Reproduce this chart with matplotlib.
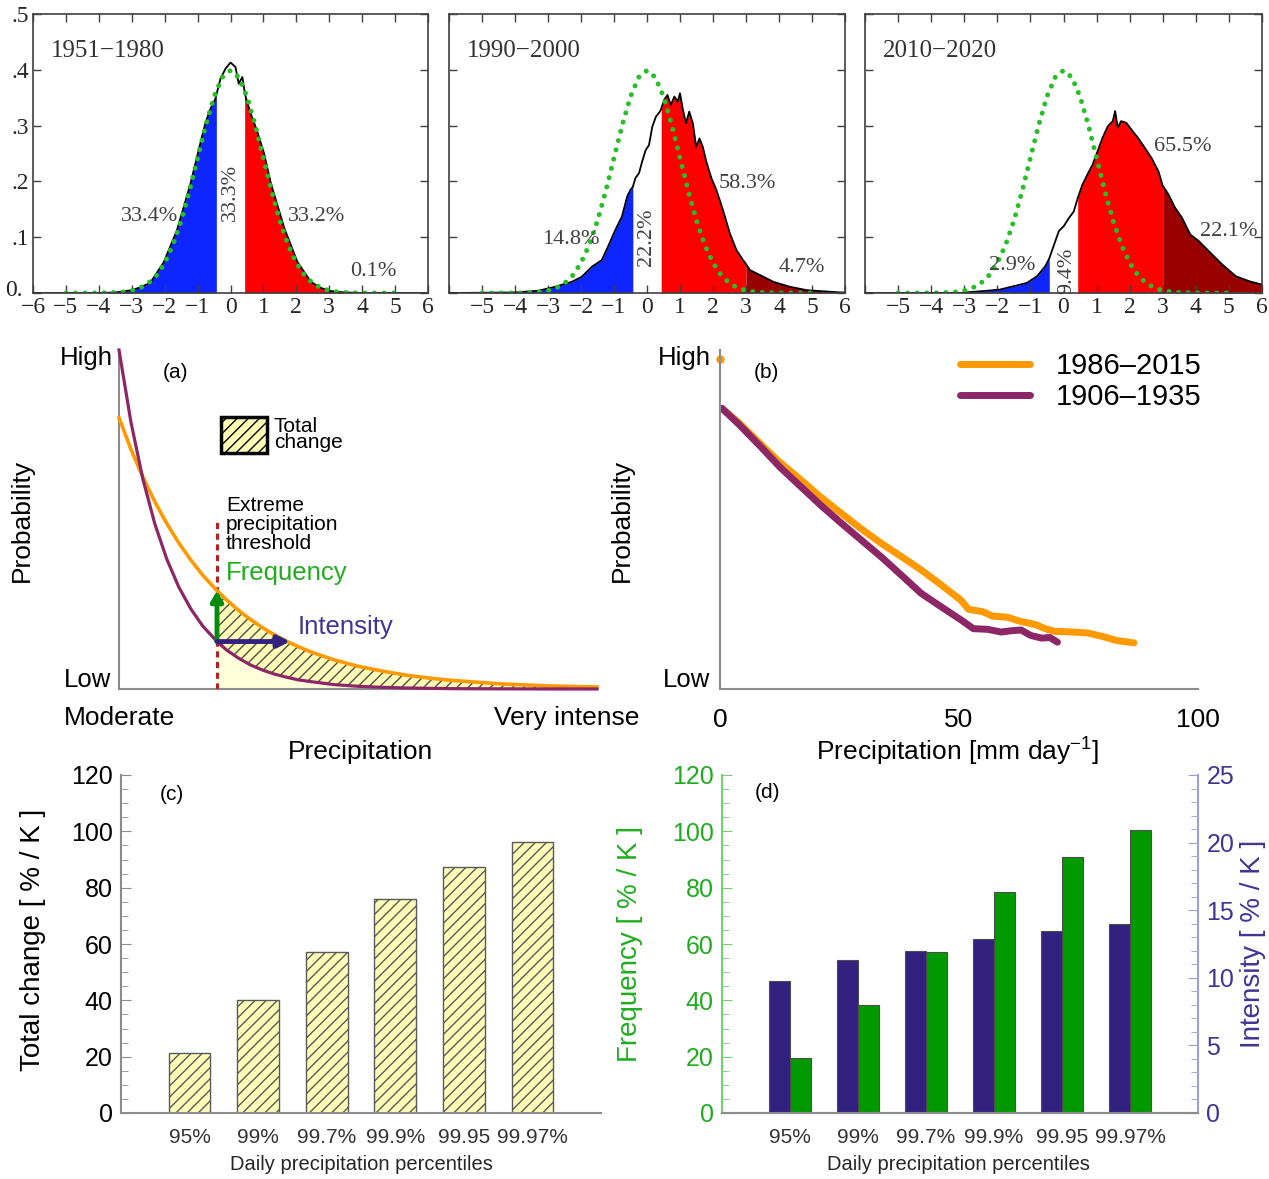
import matplotlib
matplotlib.use('Agg')
import matplotlib.pyplot as plt
from matplotlib.patches import Rectangle
from matplotlib.ticker import MultipleLocator
import numpy as np

plt.rcParams['font.family'] = ['Liberation Sans', 'DejaVu Sans']
plt.rcParams['mathtext.fontset'] = 'custom'
plt.rcParams['mathtext.rm'] = 'Liberation Sans'
plt.rcParams['mathtext.it'] = 'Liberation Sans:italic'
plt.rcParams['hatch.linewidth'] = 1.0
plt.rcParams['hatch.color'] = (0.3, 0.3, 0.3)

# ---------------- data ----------------
# top panels: anomaly histograms (x in standard deviations, y probability density)
HIST_1951_X = [-6, -4, -3.5, -3, -2.75, -2.44, -2.03, -1.63, -1.22, -0.91, -0.76, -0.61, -0.46,
               -0.43, -0.3, -0.15, 0, 0.15, 0.25, 0.36, 0.43, 0.46, 0.61, 0.81, 1.02, 1.22, 1.63,
               2.03, 2.44, 2.75, 3.0, 3.25, 3.5, 4, 6]
HIST_1951_Y = [0, 0, 0.001, 0.005, 0.010, 0.018, 0.055, 0.112, 0.195, 0.270, 0.305, 0.330, 0.348,
               0.355, 0.385, 0.402, 0.413, 0.405, 0.375, 0.387, 0.360, 0.352, 0.322, 0.290, 0.250,
               0.198, 0.117, 0.056, 0.020, 0.009, 0.004, 0.002, 0.001, 0, 0]
HIST_1990_X = [-6, -4, -3.3, -2.79, -2.28, -1.98, -1.67, -1.37, -1.16, -0.96, -0.76, -0.6, -0.5,
               -0.43, -0.35, -0.24, -0.15, -0.04, 0.06, 0.16, 0.27, 0.39, 0.43, 0.52, 0.62, 0.72,
               0.83, 0.93, 1.0, 1.08, 1.18, 1.28, 1.39, 1.49, 1.59, 1.69, 1.8, 1.95, 2.1, 2.3,
               2.51, 2.71, 2.91, 3.0, 3.12, 3.43, 3.83, 4.34, 4.85, 5.36, 5.87, 6.0]
HIST_1990_Y = [0, 0.001, 0.004, 0.011, 0.020, 0.029, 0.047, 0.059, 0.086, 0.113, 0.137, 0.173,
               0.185, 0.190, 0.206, 0.215, 0.235, 0.256, 0.265, 0.298, 0.316, 0.325, 0.330, 0.346,
               0.355, 0.337, 0.352, 0.343, 0.358, 0.331, 0.304, 0.325, 0.304, 0.262, 0.277, 0.262,
               0.235, 0.206, 0.185, 0.149, 0.107, 0.077, 0.059, 0.052, 0.041, 0.032, 0.020, 0.011,
               0.005, 0.003, 0.001, 0.001]
HIST_2010_X = [-6, -3.15, -2.54, -1.93, -1.52, -1.11, -0.8, -0.55, -0.43, -0.3, -0.14, 0.01, 0.16,
               0.31, 0.43, 0.57, 0.72, 0.88, 1.03, 1.18, 1.34, 1.49, 1.56, 1.64, 1.74, 1.9, 2.05,
               2.25, 2.46, 2.66, 2.87, 3.0, 3.17, 3.37, 3.58, 3.83, 4.09, 4.39, 4.8, 5.21, 5.62, 6.0]
HIST_2010_Y = [0, 0, 0.003, 0.006, 0.012, 0.018, 0.030, 0.048, 0.062, 0.084, 0.111, 0.120, 0.134,
               0.146, 0.170, 0.194, 0.212, 0.230, 0.254, 0.278, 0.299, 0.308, 0.326, 0.296, 0.308,
               0.305, 0.293, 0.278, 0.260, 0.242, 0.218, 0.192, 0.177, 0.153, 0.135, 0.105, 0.093,
               0.075, 0.051, 0.030, 0.021, 0.015]
NORMAL_X = [-5, -4.75, -4.5, -4.25, -4, -3.75, -3.5, -3.25, -3, -2.75, -2.5, -2.25, -2, -1.75,
            -1.5, -1.25, -1, -0.75, -0.5, -0.25, 0, 0.25, 0.5, 0.75, 1, 1.25, 1.5, 1.75, 2, 2.25,
            2.5, 2.75, 3, 3.25, 3.5, 3.75, 4, 4.25, 4.5, 4.75, 5]
NORMAL_PDF = [0, 0, 0, 0, 0.0001, 0.0004, 0.0009, 0.0020, 0.0044, 0.0091, 0.0175, 0.0317, 0.0540,
              0.0863, 0.1295, 0.1826, 0.2420, 0.3011, 0.3521, 0.3867, 0.3989, 0.3867, 0.3521,
              0.3011, 0.2420, 0.1826, 0.1295, 0.0863, 0.0540, 0.0317, 0.0175, 0.0091, 0.0044,
              0.0020, 0.0009, 0.0004, 0.0001, 0, 0, 0, 0]
LOW_EDGE, HIGH_EDGE, EXTREME_EDGE = -0.43, 0.43, 3.0
TOP_TITLES = ['1951\u22121980', '1990\u22122000', '2010\u22122020']
TOP_LABELS = [
    [('33.4%', -2.45, 0.137, 0), ('33.3%', 0.0, 0.18, 90), ('33.2%', 2.6, 0.137, 0), ('0.1%', 4.35, 0.038, 0)],
    [('14.8%', -2.3, 0.095, 0), ('22.2%', 0.0, 0.10, 90), ('58.3%', 3.05, 0.197, 0), ('4.7%', 4.7, 0.045, 0)],
    [('2.9%', -1.55, 0.05, 0), ('9.4%', 0.1, 0.04, 90), ('65.5%', 3.6, 0.262, 0), ('22.1%', 5.0, 0.11, 0)],
]
Y_TICK_TEXT = ['0.', '.1', '.2', '.3', '.4', '.5']

# panel (a) schematic curves
A_X = [0, .025, .05, .075, .1, .125, .15, .175, .205, .225, .25, .275, .3, .325, .35, .375, .4,
       .45, .5, .55, .6, .65, .7, .8, .9, 1.0]
A_ORANGE = [0.800, 0.707, 0.625, 0.552, 0.488, 0.431, 0.381, 0.336, 0.290, 0.263, 0.232, 0.205,
            0.181, 0.160, 0.141, 0.125, 0.110, 0.086, 0.067, 0.053, 0.041, 0.032, 0.025, 0.015,
            0.009, 0.006]
A_PURPLE = [1.000, 0.787, 0.619, 0.487, 0.383, 0.301, 0.237, 0.186, 0.140, 0.115, 0.091, 0.071,
            0.056, 0.044, 0.035, 0.027, 0.022, 0.013, 0.008, 0.005, 0.003, 0.002, 0.001, 0.0005,
            0.0002, 0.0001]
A_THRESHOLD = 0.205
A_THRESHOLD_TOP = 0.50
A_INTENSITY_END = 0.358

# panel (b) observed distributions
B_ORANGE_X = [0.4, 4, 7.6, 12, 16.9, 21, 25.3, 29.5, 33.7, 38, 42.1, 46, 50.4, 52, 55, 57, 60, 63,
              66, 68, 70, 74, 77, 80, 83, 86.6]
B_ORANGE_Y = [0.828, 0.785, 0.735, 0.675, 0.617, 0.567, 0.519, 0.473, 0.430, 0.390, 0.351, 0.310,
              0.262, 0.235, 0.228, 0.215, 0.212, 0.199, 0.190, 0.178, 0.170, 0.168, 0.165, 0.155,
              0.143, 0.136]
B_ORANGE_FIRST = (0.0, 0.973)
B_PURPLE_X = [0.4, 4, 8.5, 12.5, 16.9, 21, 25.3, 29.5, 33.7, 38, 42.1, 46, 50.4, 53, 56, 58.8, 61,
              63, 65, 67.3, 69, 70.6]
B_PURPLE_Y = [0.828, 0.780, 0.715, 0.655, 0.597, 0.543, 0.490, 0.440, 0.390, 0.335, 0.282, 0.245,
              0.204, 0.178, 0.176, 0.168, 0.172, 0.174, 0.158, 0.150, 0.152, 0.138]
B_LABELS = ['1986\u20132015', '1906\u20131935']

# panels (c) and (d)
PERCENTILES = ['95%', '99%', '99.7%', '99.9%', '99.95', '99.97%']
TOTAL_CHANGE = [21.4, 40.1, 57.0, 75.9, 87.3, 96.1]
FREQUENCY = [19.4, 38.3, 57.0, 78.5, 90.9, 100.4]
INTENSITY = [9.75, 11.3, 12.0, 12.9, 13.45, 13.95]

# ---------------- colours ----------------
BLUE = (0.05, 0.15, 1.0)
RED = (1.0, 0.0, 0.0)
DARKRED = (0.6, 0.0, 0.0)
DOTGREEN = (0.15, 0.75, 0.15)
ORANGE = (1.0, 0.6, 0.0)
PURPLE = (0.55, 0.15, 0.40)
YELLOW = (1.0, 1.0, 0.72)
PALEYELLOW = (1.0, 1.0, 0.86)
TXTGREEN = (0.12, 0.68, 0.12)
NAVY = (0.20, 0.13, 0.50)
TXTNAVY = (0.27, 0.20, 0.58)
BARGREEN = (0.0, 0.6, 0.0)
GREY = (0.55, 0.55, 0.55)
SERIF = 'Liberation Serif'

W, H = 1269, 1179
fig = plt.figure(figsize=(W / 100, H / 100), dpi=100)


def rect(l, t, r, b):
    return [l / W, 1 - b / H, (r - l) / W, (b - t) / H]


def fx(px):
    return px / W


def fy(py):
    return 1 - py / H


# ---------------- top panels ----------------
TOP_RECTS = [(33, 14, 428, 293), (449, 14, 845, 293), (865, 14, 1262, 293)]
TOP_DATA = [(HIST_1951_X, HIST_1951_Y), (HIST_1990_X, HIST_1990_Y), (HIST_2010_X, HIST_2010_Y)]
for k, ((xs, ys), r) in enumerate(zip(TOP_DATA, TOP_RECTS)):
    ax = fig.add_axes(rect(*r))
    hx = np.array(xs)
    hy = np.array(ys)
    ax.fill_between(hx, 0, hy, where=hx <= LOW_EDGE, color=BLUE, lw=0)
    ax.fill_between(hx, 0, hy, where=(hx >= HIGH_EDGE) & (hx <= EXTREME_EDGE), color=RED, lw=0)
    ax.fill_between(hx, 0, hy, where=hx >= EXTREME_EDGE, color=DARKRED, lw=0)
    ax.plot(hx, hy, color='black', lw=1.3)
    ax.plot(NORMAL_X, NORMAL_PDF, color=DOTGREEN, lw=3.6, ls=(0, (0.01, 1.9)),
            dash_capstyle='round', solid_capstyle='round')
    ax.set_xlim(-6, 6)
    ax.set_ylim(0, 0.5)
    ax.set_xticks(range(-6, 7))
    xl = ['\u2212%d' % (-v) if v < 0 else '%d' % v for v in range(-6, 7)]
    if k > 0:
        xl[0] = ''
    ax.set_xticklabels(xl, fontfamily=SERIF, fontsize=17, color=(0.15, 0.15, 0.15))
    ax.set_yticks([0, 0.1, 0.2, 0.3, 0.4, 0.5])
    if k == 0:
        # the "0." label sits a little higher so it clears the "-6" label
        ax.set_yticklabels([''] + Y_TICK_TEXT[1:], fontfamily=SERIF, fontsize=17,
                           color=(0.15, 0.15, 0.15))
        fig.text(fx(23), fy(290), Y_TICK_TEXT[0], ha='right', va='center', fontfamily=SERIF,
                 fontsize=17, color=(0.15, 0.15, 0.15))
    else:
        ax.set_yticklabels([])
    ax.tick_params(direction='in', top=True, right=True, length=6, width=1.0, pad=3,
                   color=(0.25, 0.25, 0.25))
    for s in ax.spines.values():
        s.set_linewidth(1.2)
        s.set_color((0.25, 0.25, 0.25))
    ax.text(-3.72, 0.434, TOP_TITLES[k], ha='center', va='center', fontfamily=SERIF, fontsize=18,
            color=(0.2, 0.2, 0.2))
    for (t, x, y, rot) in TOP_LABELS[k]:
        ax.text(x, y, t, ha='center', va='center', rotation=rot, fontfamily=SERIF, fontsize=16,
                color=(0.25, 0.25, 0.25))

# ---------------- panel (a) ----------------
axa = fig.add_axes(rect(119, 350, 597, 689))
ax_x = np.array(A_X)
ao = np.array(A_ORANGE)
ap = np.array(A_PURPLE)
m = ax_x >= A_THRESHOLD
axa.fill_between(ax_x[m], 0, ap[m], color=PALEYELLOW, lw=0)
axa.fill_between(ax_x[m], ap[m], ao[m], facecolor=YELLOW, edgecolor=(0.3, 0.3, 0.3), lw=0,
                 hatch='///')
axa.plot(ax_x, ao, color=ORANGE, lw=2.6, clip_on=False, zorder=4)
axa.plot(ax_x, ap, color=PURPLE, lw=2.3, clip_on=False, zorder=4)
axa.plot([A_THRESHOLD, A_THRESHOLD], [0, A_THRESHOLD_TOP], color=(0.72, 0.12, 0.12), lw=2.2,
         ls=(0, (2, 1.5)), zorder=3)
y_lo = A_PURPLE[A_X.index(A_THRESHOLD)]
y_hi = A_ORANGE[A_X.index(A_THRESHOLD)]
axa.annotate('', xy=(A_THRESHOLD, y_hi), xytext=(A_THRESHOLD, y_lo),
             arrowprops=dict(arrowstyle='-|>,head_width=0.35,head_length=0.6', color=(0.0, 0.55, 0.05),
                             lw=3.5, shrinkA=0, shrinkB=0), zorder=5)
axa.annotate('', xy=(A_INTENSITY_END, y_lo), xytext=(A_THRESHOLD, y_lo),
             arrowprops=dict(arrowstyle='-|>,head_width=0.35,head_length=0.7', color=NAVY,
                             lw=3.5, shrinkA=0, shrinkB=0), zorder=5)
axa.set_xlim(0, 1)
axa.set_ylim(0, 1)
axa.set_xticks([])
axa.set_yticks([])
for s in ['top', 'right']:
    axa.spines[s].set_visible(False)
for s in ['left', 'bottom']:
    axa.spines[s].set_color(GREY)
    axa.spines[s].set_linewidth(1.5)
axa.patch.set_alpha(0)
axa.add_patch(Rectangle((0.213, 0.696), 0.096, 0.106, transform=axa.transAxes, facecolor=YELLOW,
                        edgecolor='black', hatch='///', lw=2.5, clip_on=False))

fig.text(fx(22), fy(520), 'Probability', rotation=90, ha='center', va='center', fontsize=19)
fig.text(fx(113), fy(358), 'High', ha='right', va='center', fontsize=18.5)
fig.text(fx(111), fy(680), 'Low', ha='right', va='center', fontsize=18.5)
fig.text(fx(175), fy(373), '(a)', ha='center', va='center', fontsize=15)
fig.text(fx(274), fy(434), 'Total\nchange', ha='left', va='center', fontsize=15, linespacing=0.8)
fig.text(fx(226), fy(496), 'Extreme\nprecipitation\nthreshold', ha='left', va='top', fontsize=15,
         linespacing=1.0)
fig.text(fx(226), fy(573), 'Frequency', ha='left', va='center', fontsize=18.5, color=TXTGREEN)
fig.text(fx(298), fy(627), 'Intensity', ha='left', va='center', fontsize=18.5, color=TXTNAVY)
fig.text(fx(120), fy(718), 'Moderate', ha='center', va='center', fontsize=19)
fig.text(fx(567), fy(718), 'Very intense', ha='center', va='center', fontsize=19)
fig.text(fx(360), fy(752), 'Precipitation', ha='center', va='center', fontsize=19)

# ---------------- panel (b) ----------------
axb = fig.add_axes(rect(720, 350, 1198, 689))
axb.plot(B_ORANGE_X, B_ORANGE_Y, color=ORANGE, lw=5, label=B_LABELS[0], solid_capstyle='round')
axb.plot(B_PURPLE_X, B_PURPLE_Y, color=PURPLE, lw=5, label=B_LABELS[1], solid_capstyle='round')
axb.plot([B_ORANGE_FIRST[0]], [B_ORANGE_FIRST[1]], 'o', color=ORANGE, ms=5, clip_on=False)
axb.set_xlim(0, 100)
axb.set_ylim(0, 1)
axb.set_xticks([0, 50, 100])
axb.set_xticklabels(['0', '50', '100'], fontsize=19)
axb.tick_params(axis='x', length=0, pad=14)
axb.set_yticks([])
for s in ['top', 'right']:
    axb.spines[s].set_visible(False)
for s in ['left', 'bottom']:
    axb.spines[s].set_color(GREY)
    axb.spines[s].set_linewidth(1.5)
axb.patch.set_alpha(0)
axb.legend(loc='upper left', bbox_to_anchor=((960 - 720) / 478, (689 - 352) / 339), frameon=False,
           fontsize=21, handlelength=2.4, handletextpad=0.9, labelspacing=0.1, borderpad=0,
           borderaxespad=0)
fig.text(fx(622), fy(520), 'Probability', rotation=90, ha='center', va='center', fontsize=19)
fig.text(fx(711), fy(358), 'High', ha='right', va='center', fontsize=18.5)
fig.text(fx(710), fy(680), 'Low', ha='right', va='center', fontsize=18.5)
fig.text(fx(766), fy(373), '(b)', ha='center', va='center', fontsize=15)
fig.text(fx(958), fy(752), 'Precipitation [mm day$^{-1}$]', ha='center', va='center', fontsize=19)

# ---------------- panel (c) ----------------
axc = fig.add_axes(rect(121, 775, 601, 1113))
idx = np.arange(len(PERCENTILES))
axc.bar(idx, TOTAL_CHANGE, width=0.61, facecolor=YELLOW, edgecolor=(0.35, 0.35, 0.35), lw=1.0,
        hatch='///')
axc.set_xlim(-1, 6)
axc.set_ylim(0, 120)
axc.set_xticks(idx)
axc.set_xticklabels(PERCENTILES, fontsize=15, color=(0.2, 0.2, 0.2))
axc.tick_params(axis='x', length=0, pad=11)
axc.yaxis.set_major_locator(MultipleLocator(20))
axc.yaxis.set_minor_locator(MultipleLocator(5))
axc.tick_params(axis='y', which='both', direction='in', color=GREY, labelsize=18, pad=6)
axc.tick_params(axis='y', which='major', length=7)
axc.tick_params(axis='y', which='minor', length=5)
for s in ['top', 'right']:
    axc.spines[s].set_visible(False)
for s in ['left', 'bottom']:
    axc.spines[s].set_color(GREY)
    axc.spines[s].set_linewidth(1.5)
axc.patch.set_alpha(0)
fig.text(fx(172), fy(794), '(c)', ha='center', va='center', fontsize=15)
fig.text(fx(33), fy(940), 'Total change [ % / K ]', rotation=90, ha='center', va='center', fontsize=20)
fig.text(fx(361), fy(1165), 'Daily precipitation percentiles', ha='center', va='center', fontsize=14.5,
         color=(0.15, 0.15, 0.15))

# ---------------- panel (d) ----------------
axd = fig.add_axes(rect(722, 775, 1198, 1113))
axd2 = axd.twinx()
bw = 0.31
axd.bar(idx + bw / 2, FREQUENCY, width=bw, color=BARGREEN, edgecolor=(0.3, 0.3, 0.3), lw=0.8)
axd2.bar(idx - bw / 2, INTENSITY, width=bw, color=NAVY, edgecolor=(0.3, 0.3, 0.3), lw=0.8)
axd.set_xlim(-1, 6)
axd.set_ylim(0, 120)
axd2.set_ylim(0, 25)
axd.set_xticks(idx)
axd.set_xticklabels(PERCENTILES, fontsize=15, color=(0.2, 0.2, 0.2))
axd.tick_params(axis='x', length=0, pad=11)
axd.yaxis.set_major_locator(MultipleLocator(20))
axd.yaxis.set_minor_locator(MultipleLocator(5))
axd2.yaxis.set_major_locator(MultipleLocator(5))
axd2.yaxis.set_minor_locator(MultipleLocator(1))
LGREEN = (0.45, 0.82, 0.45)
LPURP = (0.62, 0.62, 0.85)
axd.tick_params(axis='y', which='both', direction='in', color=LGREEN, labelsize=18, pad=6,
                labelcolor=TXTGREEN)
axd.tick_params(axis='y', which='major', length=7)
axd.tick_params(axis='y', which='minor', length=5)
axd2.tick_params(axis='y', which='both', direction='in', color=LPURP, labelsize=18, pad=6,
                 labelcolor=TXTNAVY)
axd2.tick_params(axis='y', which='major', length=7)
axd2.tick_params(axis='y', which='minor', length=5)
for a in (axd, axd2):
    a.spines['top'].set_visible(False)
    a.spines['bottom'].set_color(GREY)
    a.spines['bottom'].set_linewidth(1.5)
axd.spines['right'].set_visible(False)
axd2.spines['left'].set_visible(False)
axd.spines['left'].set_color(LGREEN)
axd.spines['left'].set_linewidth(1.5)
axd2.spines['right'].set_color(LPURP)
axd2.spines['right'].set_linewidth(1.5)
axd.patch.set_alpha(0)
axd2.patch.set_alpha(0)
fig.text(fx(768), fy(793), '(d)', ha='center', va='center', fontsize=15)
fig.text(fx(630), fy(944), 'Frequency [ % / K ]', rotation=90, ha='center', va='center', fontsize=20,
         color=TXTGREEN)
fig.text(fx(1253), fy(944), 'Intensity [ % / K ]', rotation=90, ha='center', va='center', fontsize=20,
         color=TXTNAVY)
fig.text(fx(958), fy(1165), 'Daily precipitation percentiles', ha='center', va='center', fontsize=14.5,
         color=(0.15, 0.15, 0.15))

fig.savefig('out.png', dpi=100)
